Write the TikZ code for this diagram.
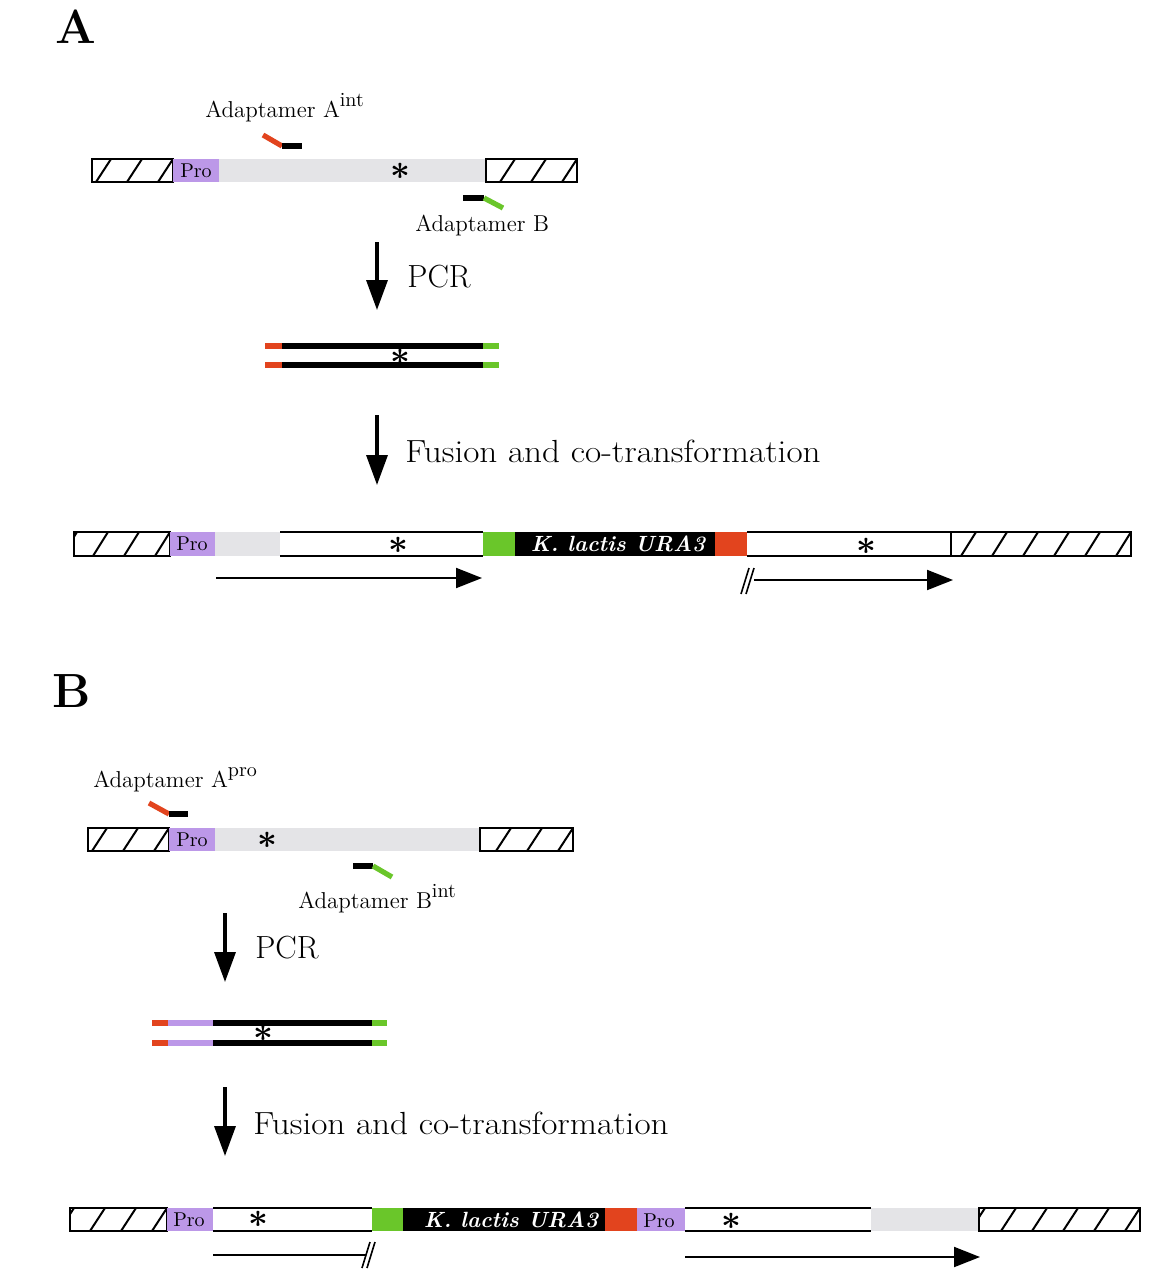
\documentclass[tikz,border=0pt]{standalone}
\usepackage{tikz}
\usetikzlibrary{arrows.meta}

\definecolor{promoter}{RGB}{188,152,232}
\definecolor{orf}{RGB}{228,228,231}
\definecolor{tagred}{RGB}{226,68,30}
\definecolor{taggreen}{RGB}{106,198,42}

% hatched flank: x1, x2, y top, y bottom (pixel units)
\newcommand{\flank}[4]{%
  \begin{scope}
    \clip (#1,#3) rectangle (#2,#4);
    \foreach \k in {0,...,7}
      \draw[hatchline] ({#2-\k*31-15},#4) -- ({#2-\k*31},#3);
  \end{scope}
  \draw[dnaline] (#1,#3) rectangle (#2,#4);
}

\begin{document}
\begin{tikzpicture}[
    x=0.5pt, y=-0.5pt,
    dnaline/.style={line width=1.1pt, black},
    hatchline/.style={line width=1pt, black},
    primer/.style={line width=2.6pt},
    product/.style={line width=3pt},
    panel/.style={anchor=base west, inner sep=0pt, font=\fontsize{24}{28}\selectfont\bfseries},
    lbl/.style={anchor=base west, inner sep=0pt, font=\fontsize{11.5}{14}\selectfont},
    steplbl/.style={anchor=base west, inner sep=0pt, font=\fontsize{16}{19}\selectfont},
    protext/.style={inner sep=0pt, font=\fontsize{10}{12}\selectfont},
    ura/.style={inner sep=0pt, text=white, font=\fontsize{11}{13}\selectfont\bfseries\itshape},
    star/.style={inner sep=0pt, font=\fontsize{16}{16}\selectfont\boldmath},
    steparrow/.style={line width=1.7pt, -{Triangle[length=15pt,width=10.5pt]}},
    readarrow/.style={line width=1pt, -{Triangle[length=13pt,width=10pt]}},
    readline/.style={line width=1pt},
    breakmark/.style={line width=0.8pt}
]
\useasboundingbox (0,0) rectangle (1151,1280);

%%% Panel A
\node[panel] (labA) at (55,43) {A};

% genomic locus
\flank{92}{173}{159}{182}
\fill[promoter] (173,159) rectangle (219,182);
\fill[orf] (219,159) rectangle (486,182);
\flank{486}{577}{159}{182}
\node[protext] (proA) at (196,171) {Pro};
\node[star] (starA) at (400,171) {$\ast$};

% adaptamers
\draw[primer, tagred] (263,135) -- (282,146);
\draw[primer, black] (282,146) -- (302,146);
\draw[primer, black] (463,198) -- (484,198);
\draw[primer, taggreen] (484,198) -- (503,208);
\node[lbl] (adaAint) at (205,117) {Adaptamer A\raisebox{5.5pt}{\fontsize{10}{12}\selectfont int}};
\node[lbl] (adaB) at (415,231) {Adaptamer B};

% PCR
\coordinate (pcrAtop) at (377,242);
\coordinate (pcrAbot) at (377,310);
\draw[steparrow] (pcrAtop) -- (pcrAbot);
\node[steplbl] (pcrA) at (407,287) {PCR};

% PCR product
\foreach \y in {346,365} {
  \draw[product, tagred] (265,\y) -- (282,\y);
  \draw[product, black] (282,\y) -- (483,\y);
  \draw[product, taggreen] (483,\y) -- (499,\y);
}
\node[star] (starAp) at (400,357) {$\ast$};

% fusion
\coordinate (fusAtop) at (377,415);
\coordinate (fusAbot) at (377,485);
\draw[steparrow] (fusAtop) -- (fusAbot);
\node[steplbl] (fusA) at (405,462) {\scalebox{1.1}[1]{Fusion and co-transformation}};

% integrated construct
\flank{74}{170}{532}{556}
\fill[promoter] (170,532) rectangle (215,556);
\fill[orf] (215,532) rectangle (280,556);
\fill[white] (280,532) rectangle (483,556);
\draw[dnaline] (280,532) -- (483,532) (280,556) -- (483,556);
\fill[taggreen] (483,532) rectangle (515,556);
\fill[black] (515,532) rectangle (715,556);
\fill[tagred] (715,532) rectangle (747,556);
\fill[white] (747,532) rectangle (951,556);
\draw[dnaline] (747,532) -- (951,532) (747,556) -- (951,556);
\flank{951}{1131}{532}{556}
\node[protext] (proA2) at (192,544) {Pro};
\node[ura] (uraA) at (618,544) {K. lactis URA3};
\node[star] (starA1) at (398,545) {$\ast$};
\node[star] (starA2) at (866,546) {$\ast$};

% transcripts
\coordinate (rdA1s) at (216,578);
\coordinate (rdA1e) at (482,578);
\draw[readarrow] (rdA1s) -- (rdA1e);
\coordinate (rdA2s) at (754,580);
\coordinate (rdA2e) at (953,580);
\draw[readarrow] (rdA2s) -- (rdA2e);
\draw[breakmark] (741,594) -- (749,568) (746,594) -- (754,568);

%%% Panel B
\node[panel] (labB) at (52,707) {B};

% genomic locus
\flank{88}{169}{828}{851}
\fill[promoter] (169,828) rectangle (215,851);
\fill[orf] (215,828) rectangle (480,851);
\flank{480}{573}{828}{851}
\node[protext] (proB) at (192,839.5) {Pro};
\node[star] (starB) at (267,840) {$\ast$};

% adaptamers
\draw[primer, tagred] (149,803) -- (169,814);
\draw[primer, black] (169,814) -- (188,814);
\draw[primer, black] (353,866) -- (373,866);
\draw[primer, taggreen] (373,866) -- (392,877);
\node[lbl] (adaApro) at (93,787) {Adaptamer A\raisebox{5.5pt}{\fontsize{10}{12}\selectfont pro}};
\node[lbl] (adaBint) at (298,908) {Adaptamer B\raisebox{5.5pt}{\fontsize{10}{12}\selectfont int}};

% PCR
\coordinate (pcrBtop) at (225,913);
\coordinate (pcrBbot) at (225,982);
\draw[steparrow] (pcrBtop) -- (pcrBbot);
\node[steplbl] (pcrB) at (255,958) {PCR};

% PCR product
\foreach \y in {1023,1043} {
  \draw[product, tagred] (152,\y) -- (168,\y);
  \draw[product, promoter] (168,\y) -- (213,\y);
  \draw[product, black] (213,\y) -- (372,\y);
  \draw[product, taggreen] (372,\y) -- (387,\y);
}
\node[star] (starBp) at (263,1033) {$\ast$};

% fusion
\coordinate (fusBtop) at (225,1087);
\coordinate (fusBbot) at (225,1156);
\draw[steparrow] (fusBtop) -- (fusBbot);
\node[steplbl] (fusB) at (253,1134) {\scalebox{1.1}[1]{Fusion and co-transformation}};

% integrated construct
\flank{70}{167}{1208}{1231}
\fill[promoter] (167,1208) rectangle (213,1231);
\fill[white] (213,1208) rectangle (372,1231);
\draw[dnaline] (213,1208) -- (372,1208) (213,1231) -- (372,1231);
\fill[taggreen] (372,1208) rectangle (403,1231);
\fill[black] (403,1208) rectangle (605,1231);
\fill[tagred] (605,1208) rectangle (637,1231);
\fill[promoter] (637,1208) rectangle (685,1231);
\fill[white] (685,1208) rectangle (871,1231);
\draw[dnaline] (685,1208) -- (871,1208) (685,1231) -- (871,1231);
\fill[orf] (871,1208) rectangle (979,1231);
\flank{979}{1140}{1208}{1231}
\node[protext] (proB1) at (189,1219.5) {Pro};
\node[protext] (proB2) at (659,1220.5) {Pro};
\node[ura] (uraB) at (511,1220) {K. lactis URA3};
\node[star] (starB1) at (258,1219) {$\ast$};
\node[star] (starB2) at (731,1221) {$\ast$};

% transcripts
\coordinate (rdB1s) at (213,1255);
\coordinate (rdB1e) at (366,1255);
\draw[readline] (rdB1s) -- (rdB1e);
\draw[breakmark] (362,1268) -- (370,1242) (367,1268) -- (375,1242);
\coordinate (rdB2s) at (685,1257);
\coordinate (rdB2e) at (980,1257);
\draw[readarrow] (rdB2s) -- (rdB2e);

\end{tikzpicture}
\end{document}
